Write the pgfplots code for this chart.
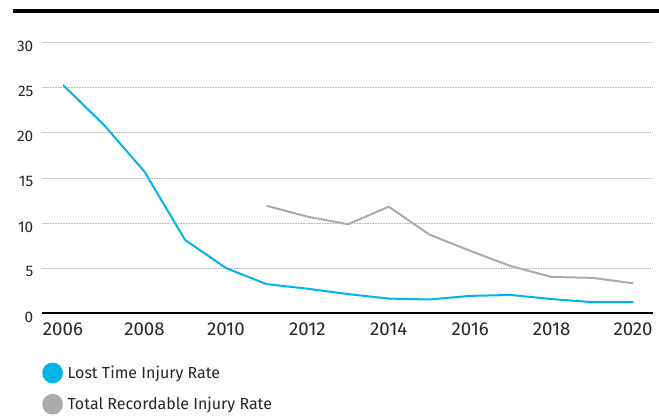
\documentclass[border=0pt]{standalone}
\usepackage{fontspec}
\setmainfont{Fira Sans}
\usepackage{pgfplots}
\pgfplotsset{compat=1.18}
\definecolor{ltir}{HTML}{00B4E8}
\definecolor{trir}{HTML}{ABABAB}
\definecolor{txt}{HTML}{262626}

\begin{document}
\begin{tikzpicture}
\useasboundingbox (0,0) rectangle (494.25pt,312.75pt);
% heavy rule across the top
\draw[black, line width=3.5pt] (9.75pt,304.5pt) -- (494.25pt,304.5pt);
\begin{axis}[
  at={(31.5pt,78pt)}, anchor=south west,
  scale only axis, width=458.25pt, height=202.7pt,
  xmin=2005.484, xmax=2020.49, ymin=0, ymax=30,
  axis x line*=bottom, axis y line*=left,
  y axis line style={draw=none},
  x axis line style={line width=0.8pt, -},
  xtick={2006,2008,...,2020}, ytick={0,5,...,30},
  major tick length=0pt,
  ymajorgrids,
  major grid style={gray!60, line width=0.5pt, dash pattern=on 0.6pt off 0.6pt},
  /pgf/number format/assume math mode=true,
  /pgf/number format/1000 sep={},
  xticklabel style={font=\fontsize{14}{16}\selectfont, text=txt, yshift=-4pt},
  yticklabel style={font=\fontsize{11.5}{13}\selectfont, text=txt, xshift=-3pt, yshift=-3pt},
  legend style={draw=none, fill=none, at={(0,0)}, anchor=north west,
    inner sep=0pt, yshift=-37pt, row sep=8pt, column sep=0pt,
    font=\fontsize{12}{14}\selectfont, text=txt,
    cells={anchor=west}, nodes={inner sep=1.5pt}},
  legend image code/.code={\fill[#1] (7pt,0pt) circle (7pt); \path (16pt,0pt);},
]
\addplot[ltir, line width=1.5pt, line join=round] coordinates {
  (2006,25.3) (2007,20.9) (2008,15.7) (2009,8.1) (2010,5.0)
  (2011,3.2) (2012,2.7) (2013,2.1) (2014,1.6) (2015,1.5)
  (2016,1.9) (2017,2.0) (2018,1.55) (2019,1.2) (2020,1.2)};
\addlegendentry{Lost Time Injury Rate}
\addplot[trir, line width=1.5pt, line join=round] coordinates {
  (2011,11.9) (2012,10.7) (2013,9.85) (2014,11.8) (2015,8.7)
  (2016,6.9) (2017,5.2) (2018,4.0) (2019,3.9) (2020,3.3)};
\addlegendentry{Total Recordable Injury Rate}
\end{axis}
\end{tikzpicture}
\end{document}
